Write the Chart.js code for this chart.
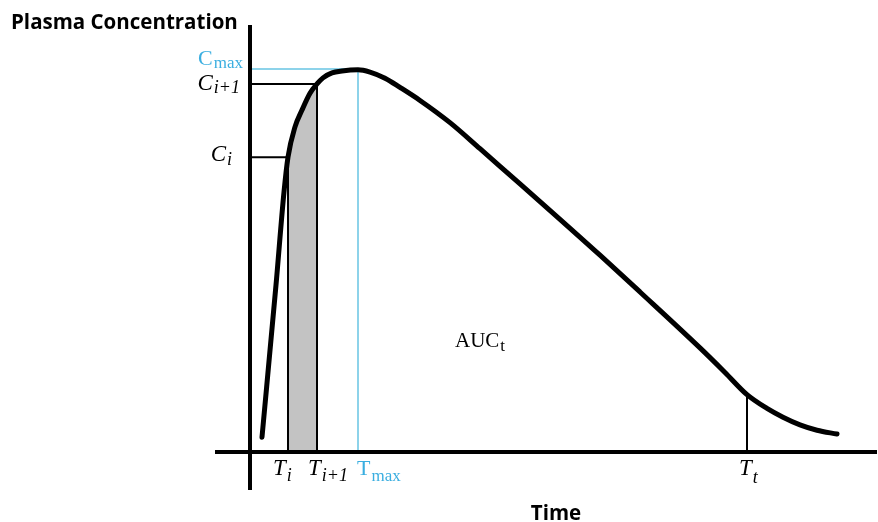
<!DOCTYPE html>
<html>
<head>
<meta charset="utf-8">
<script src="https://cdn.jsdelivr.net/npm/chart.js@4.4.1/dist/chart.umd.min.js"></script>
<style>
  body { margin: 0; background: #fff; }
  canvas { display: block; }
</style>
</head>
<body>
<canvas id="pkChart" width="878" height="522"></canvas>
<script>
// concentration-time curve (time in h, conc as % of Cmax)
const curveTime = [1.2, 2.6, 3.4, 3.8, 4.5, 5.2, 6.0, 6.7, 7.3, 8.2, 9.2, 10.8, 12.0, 13.5, 15.0, 17.0, 20.0, 23.0, 26.0, 29.0, 35.0, 39.0, 45.0, 47.5, 49.7, 51.7, 53.3, 55.0, 56.7, 58.7];
const curveConc = [3.9, 43.6, 67.9, 77.0, 84.9, 89.3, 93.7, 96.1, 97.7, 99.0, 99.5, 99.8, 99.2, 97.6, 95.2, 91.8, 86.0, 79.2, 72.3, 65.4, 51.4, 41.8, 27.2, 20.8, 15.0, 11.4, 9.1, 7.1, 5.7, 4.7];

// marked times and the concentration at each
const markNames = ['Ti', 'Ti+1', 'Tmax', 'Tt'];
const markTimes = [3.8, 6.7, 10.8, 49.7];
const markConcs = [77.0, 96.1, 100, 15.0];

const xRange = [-3.5, 62.7];
const yRange = [-9.9, 111.5];

const curvePts = curveTime.map((t, i) => ({ x: t, y: curveConc[i] }));
const shadePts = curvePts.filter(p => p.x >= markTimes[0] && p.x <= markTimes[1]);

function guide(pts, color, width, order) {
    return {
        data: pts, borderColor: color, borderWidth: width, pointRadius: 0,
        fill: false, tension: 0, order: order
    };
}

const serif = '"Liberation Serif", "DejaVu Serif", serif';

// draws main text + subscript, e.g. C + i+1
function drawMath(ctx, x, y, main, sub, italic, sizes, color, align, subDrop) {
    const fMain = (italic ? 'italic ' : '') + sizes[0] + 'px ' + serif;
    const fSub = (italic ? 'italic ' : '') + sizes[1] + 'px ' + serif;
    ctx.font = fMain;
    const w1 = ctx.measureText(main).width;
    ctx.font = fSub;
    const w2 = ctx.measureText(sub).width;
    let x0 = align === 'right' ? x - w1 - w2 - 1 : x;
    ctx.fillStyle = color;
    ctx.textBaseline = 'alphabetic';
    ctx.textAlign = 'left';
    ctx.font = fMain;
    ctx.fillText(main, x0, y);
    ctx.font = fSub;
    ctx.fillText(sub, x0 + w1 + 1, y + subDrop);
}

const labelPlugin = {
    id: 'labels',
    afterDatasetsDraw(chart) {
        const ctx = chart.ctx;
        const xs = chart.scales.x, ys = chart.scales.y;
        const blue = '#3aaee0';
        const big = [23, 18];
        ctx.save();

        // axis titles
        ctx.fillStyle = '#000';
        ctx.font = 'bold 20.5px "Open Sans", sans-serif';
        ctx.textAlign = 'left';
        ctx.textBaseline = 'alphabetic';
        ctx.fillText('Plasma Concentration', 11, 29);
        ctx.textAlign = 'center';
        ctx.fillText('Time', 556, 520);

        // concentration labels left of the axis
        const ax = xs.getPixelForValue(0);
        drawMath(ctx, ax - 7, ys.getPixelForValue(markConcs[2]) - 4, 'C', 'max', false, [22, 17], blue, 'right', 3);
        drawMath(ctx, ax - 10, ys.getPixelForValue(markConcs[1]) + 6, 'C', 'i+1', true, big, '#000', 'right', 3);
        drawMath(ctx, ax - 18, ys.getPixelForValue(markConcs[0]) + 4, 'C', 'i', true, big, '#000', 'right', 4);

        // time labels under the axis
        const by = ys.getPixelForValue(0) + 23;
        drawMath(ctx, xs.getPixelForValue(markTimes[0]) - 15, by, 'T', 'i', true, big, '#000', 'left', 6);
        drawMath(ctx, xs.getPixelForValue(markTimes[1]) - 9, by, 'T', 'i+1', true, big, '#000', 'left', 6);
        drawMath(ctx, xs.getPixelForValue(markTimes[2]) - 1, by, 'T', 'max', false, [22, 17], blue, 'left', 6);
        drawMath(ctx, xs.getPixelForValue(markTimes[3]) - 8, by, 'T', 't', true, big, '#000', 'left', 8);

        // area label
        drawMath(ctx, xs.getPixelForValue(20.5), ys.getPixelForValue(27.4), 'AUC', 't', false, [21, 17], '#000', 'left', 4);
        ctx.restore();
    }
};

new Chart(document.getElementById('pkChart').getContext('2d'), {
    type: 'line',
    data: {
        datasets: [
            {
                data: curvePts, borderColor: '#000', borderWidth: 5, pointRadius: 0,
                cubicInterpolationMode: 'monotone', fill: false, order: 0,
                borderCapStyle: 'round'
            },
            guide([{ x: xRange[0], y: 0 }, { x: xRange[1], y: 0 }], '#000', 4, 1),
            guide([{ x: 0, y: yRange[0] }, { x: 0, y: yRange[1] }], '#000', 4, 1),
            guide([{ x: 0, y: markConcs[2] }, { x: markTimes[2], y: markConcs[2] }, { x: markTimes[2], y: 0 }], '#8dd3ea', 2, 2),
            guide([{ x: 0, y: markConcs[1] }, { x: markTimes[1], y: markConcs[1] }, { x: markTimes[1], y: 0 }], '#000', 2, 2),
            guide([{ x: 0, y: markConcs[0] }, { x: markTimes[0], y: markConcs[0] }, { x: markTimes[0], y: 0 }], '#000', 2, 2),
            guide([{ x: markTimes[3], y: markConcs[3] }, { x: markTimes[3], y: 0 }], '#000', 2, 2),
            {
                data: shadePts, borderWidth: 0, borderColor: 'rgba(0,0,0,0)', pointRadius: 0,
                backgroundColor: '#c3c3c3', fill: 'origin',
                cubicInterpolationMode: 'monotone', order: 3
            }
        ]
    },
    options: {
        responsive: false,
        animation: false,
        devicePixelRatio: 1,
        layout: { padding: { left: 215, right: 1, top: 25, bottom: 32 } },
        plugins: { legend: { display: false }, tooltip: { enabled: false } },
        scales: {
            x: { type: 'linear', min: xRange[0], max: xRange[1], display: false },
            y: { type: 'linear', min: yRange[0], max: yRange[1], display: false }
        }
    },
    plugins: [labelPlugin]
});
</script>
</body>
</html>
